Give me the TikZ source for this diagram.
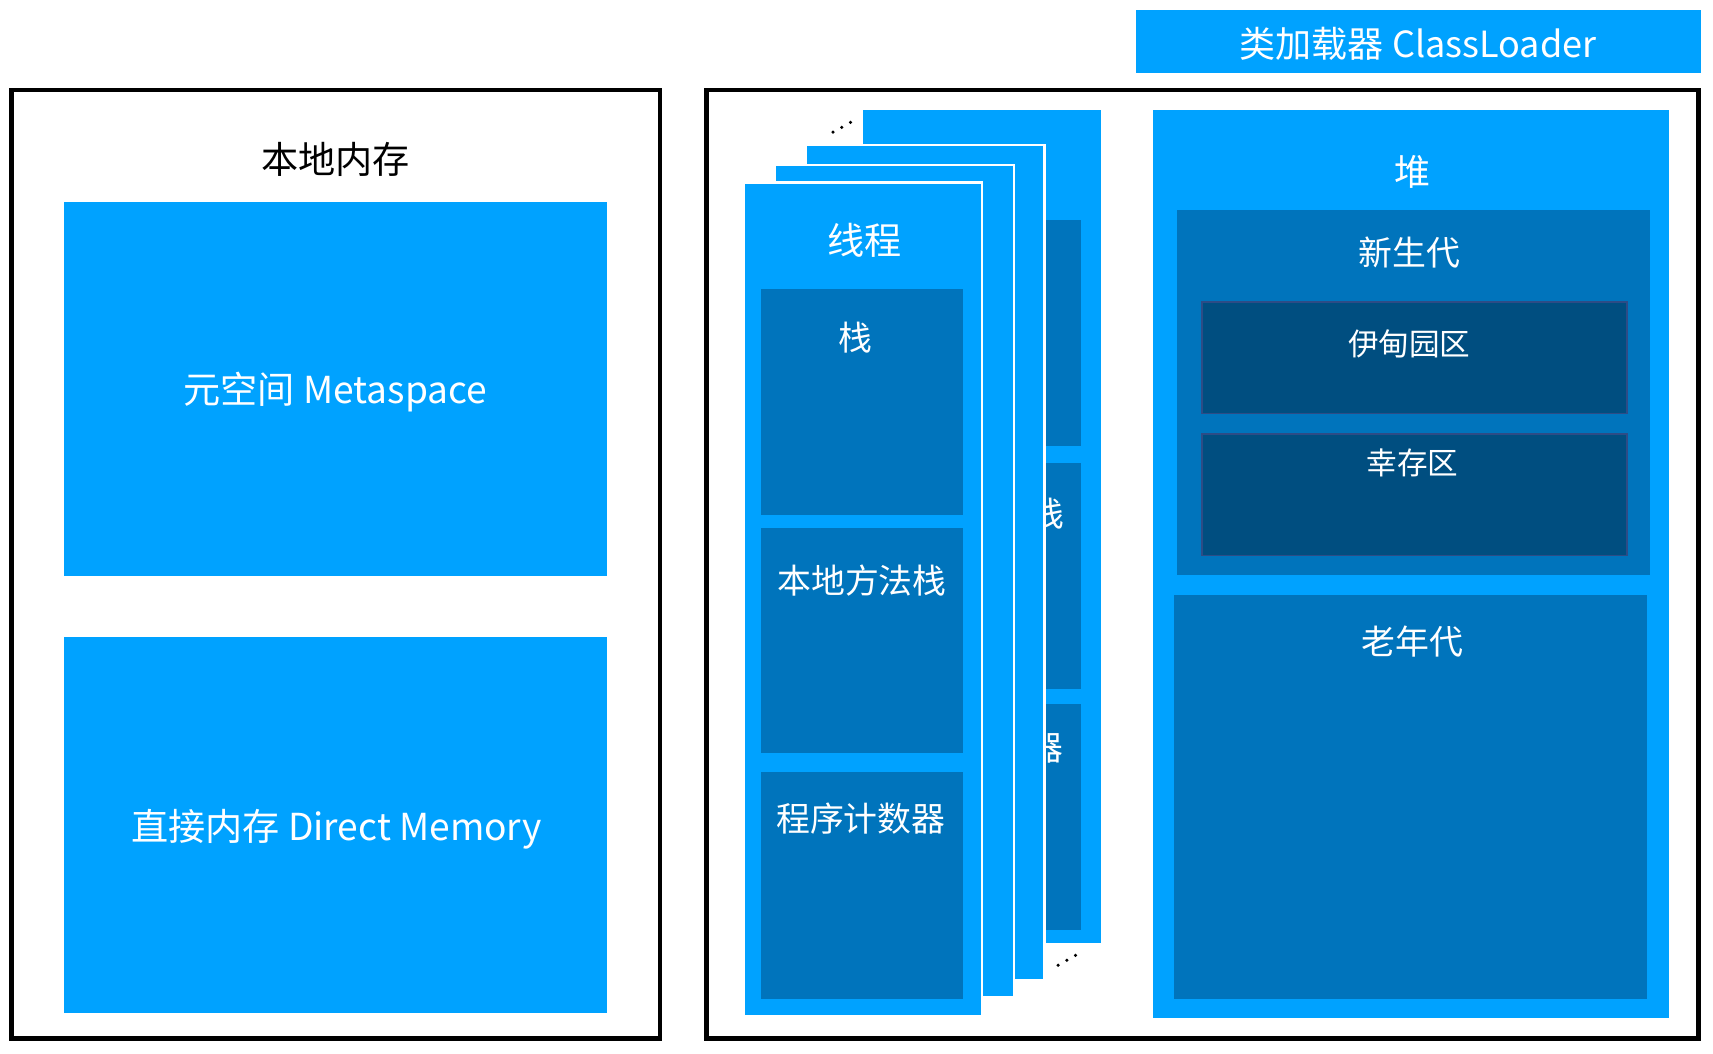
\documentclass[tikz,border=0pt]{standalone}
\usepackage{fontspec}
\setmainfont{Noto Sans CJK SC}
\definecolor{lb}{HTML}{00A2FF}
\definecolor{mb}{HTML}{0074BC}
\definecolor{db}{HTML}{004E80}
\definecolor{dbb}{HTML}{2D4C86}
\newcommand\myfs[1]{\fontsize{#1}{#1}\selectfont}
\tikzset{
  outerbox/.style={draw=black, line width=4.3pt},
  lightfill/.style={fill=lb},
  frame/.style={fill=lb, draw=white, line width=2pt},
  midfill/.style={fill=mb},
  darkfill/.style={fill=db, draw=dbb, line width=1.5pt},
  wt/.style={text=white, inner sep=0pt},
  bt/.style={text=black, inner sep=0pt},
  dotmark/.style={fill=black}
}
\begin{document}
\begin{tikzpicture}[x=1pt,y=-1pt]
\useasboundingbox (0,0) rectangle (1568,964);
\fill[white] (0,0) rectangle (1568,964);

% class loader
\fill[lightfill] (1040,9) rectangle (1557,67);
\node[wt, font=\myfs{33}] (cl) at (1298,40) {类加载器 ClassLoader};

% left box
\draw[outerbox] (10.5,82.5) rectangle (604,950.5);
\node[bt, font=\myfs{34}] (native) at (307,146) {本地内存};
\fill[lightfill] (59,185) rectangle (556,527);
\node[wt, font=\myfs{34}] (meta) at (307,359) {元空间 Metaspace};
\fill[lightfill] (59,583) rectangle (556,927);
\node[wt, font=\myfs{34}] (direct) at (308,759) {直接内存 Direct Memory};

% right box
\draw[outerbox] (646.5,82.5) rectangle (1555,950.5);

% back thread frame
\fill[lightfill] (789.6,100.7) rectangle (1007.8,862.8);
\fill[midfill] (804.5,201.4) rectangle (989.5,408);
\fill[midfill] (804.5,423.5) rectangle (989.5,630.4);
\fill[midfill] (804.5,644.4) rectangle (989.5,851.3);
\node[wt, font=\myfs{31}] (bnm) at (897,470) {本地方法栈};
\node[wt, font=\myfs{31}] (bpc) at (896,684) {程序计数器};

% middle frames
\draw[frame] (737.8,132.7) rectangle (956,897);
\draw[frame] (709.4,151) rectangle (928,913);

% front thread frame
\draw[frame] (681,167) rectangle (899,930);
\node[wt, font=\myfs{34}] (thread) at (791,220) {线程};
\fill[midfill] (696.6,264.5) rectangle (881.5,471.4);
\node[wt, font=\myfs{31}] (stack) at (783,309) {栈};
\fill[midfill] (696.6,483) rectangle (881.5,689.5);
\node[wt, font=\myfs{31}] (nms) at (789,531) {本地方法栈};
\fill[midfill] (696.6,707) rectangle (881.5,914.5);
\node[wt, font=\myfs{31}] (pc) at (788,749) {程序计数器};

% dots
\fill[dotmark] (762.5,121) circle (1.6) (770.5,116.5) circle (1.6) (778.5,112) circle (1.6);
\fill[dotmark] (968.5,883.5) circle (1.6) (976.5,879) circle (1.6) (984.5,874.5) circle (1.6);

% heap
\fill[lightfill] (1055,101) rectangle (1528,932);
\node[wt, font=\myfs{33}] (heap) at (1293,157) {堆};
\fill[midfill] (1077,192) rectangle (1510,526);
\node[wt, font=\myfs{31}] (young) at (1290,231) {新生代};
\draw[darkfill] (1100.5,276.5) rectangle (1489,378.5);
\node[wt, font=\myfs{28}] (eden) at (1290,315) {伊甸园区};
\draw[darkfill] (1100.5,397.5) rectangle (1489,508.5);
\node[wt, font=\myfs{28}] (surv) at (1293,424) {幸存区};
\fill[midfill] (1075,545) rectangle (1508,914);
\node[wt, font=\myfs{31}] (old) at (1293,587) {老年代};
\end{tikzpicture}
\end{document}
